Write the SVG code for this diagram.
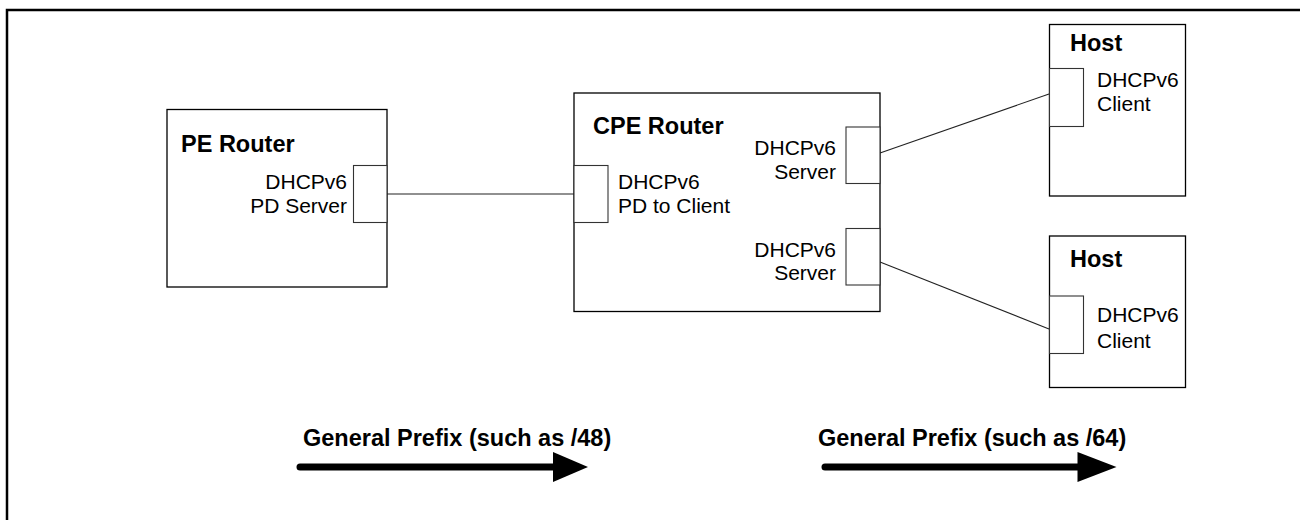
<svg xmlns="http://www.w3.org/2000/svg" width="1300" height="520" viewBox="0 0 1300 520">
<defs>
<style>
.box{fill:#fff;stroke:#000;stroke-width:1.3}
.port{fill:#fff;stroke:#333;stroke-width:1.1}
.title{font-family:"Liberation Sans",Arial,sans-serif;font-weight:bold;font-size:23.5px;fill:#000}
.lbl{font-family:"Liberation Sans",Arial,sans-serif;font-size:21px;fill:#000}
.conn{stroke:#222;stroke-width:1.1;fill:none}
.flow{stroke:#000;stroke-width:7;stroke-linecap:round;fill:none}
</style>
</defs>
<rect x="0" y="0" width="1300" height="520" fill="#fff"/>
<path d="M7,530 V10 H1310" fill="none" stroke="#000" stroke-width="2.5"/>

<g id="connectors">
<line class="conn" x1="387" y1="194" x2="574" y2="194"/>
<line class="conn" x1="880" y1="153" x2="1049" y2="94"/>
<line class="conn" x1="880" y1="262" x2="1049" y2="329"/>
</g>

<g id="pe-router">
<rect class="box" x="167" y="109.5" width="220" height="177.5"/>
<text class="title" x="181" y="152">PE Router</text>
<rect class="port" x="353.5" y="165.5" width="33.5" height="57"/>
<text class="lbl" x="347" y="189" text-anchor="end">DHCPv6</text>
<text class="lbl" x="347" y="213" text-anchor="end">PD Server</text>
</g>

<g id="cpe-router">
<rect class="box" x="574" y="93" width="306" height="218.5"/>
<text class="title" x="593" y="134">CPE Router</text>
<rect class="port" x="574" y="165.5" width="34" height="57"/>
<text class="lbl" x="618" y="189">DHCPv6</text>
<text class="lbl" x="618" y="213">PD to Client</text>
<rect class="port" x="846" y="127" width="34" height="56.5"/>
<text class="lbl" x="836" y="155" text-anchor="end">DHCPv6</text>
<text class="lbl" x="836" y="178.5" text-anchor="end">Server</text>
<rect class="port" x="846" y="228.5" width="34" height="56.5"/>
<text class="lbl" x="836" y="256.5" text-anchor="end">DHCPv6</text>
<text class="lbl" x="836" y="280" text-anchor="end">Server</text>
</g>

<g id="host-1">
<rect class="box" x="1049.5" y="24.5" width="136" height="171.5"/>
<text class="title" x="1070" y="51">Host</text>
<rect class="port" x="1049.5" y="68.5" width="34" height="58"/>
<text class="lbl" x="1097" y="87">DHCPv6</text>
<text class="lbl" x="1097" y="111">Client</text>
</g>

<g id="host-2">
<rect class="box" x="1049.5" y="236" width="136" height="151.5"/>
<text class="title" x="1070" y="266.5">Host</text>
<rect class="port" x="1049.5" y="296" width="34" height="57.5"/>
<text class="lbl" x="1097" y="322">DHCPv6</text>
<text class="lbl" x="1097" y="347.5">Client</text>
</g>

<g id="flow-48">
<text class="title" x="303" y="446">General Prefix (such as /48)</text>
<line class="flow" x1="300" y1="467" x2="556" y2="467"/>
<polygon points="553,452 588,467 553,482" fill="#000"/>
</g>

<g id="flow-64">
<text class="title" x="818" y="446">General Prefix (such as /64)</text>
<line class="flow" x1="825" y1="467" x2="1080" y2="467"/>
<polygon points="1077.5,452 1116.5,467 1077.5,482" fill="#000"/>
</g>
</svg>
